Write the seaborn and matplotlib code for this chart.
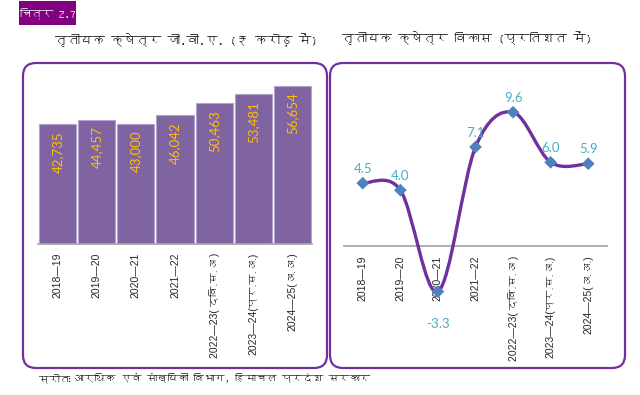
import matplotlib
matplotlib.use('Agg')
import matplotlib.pyplot as plt
from matplotlib import font_manager
from matplotlib.ft2font import FT2Font
from matplotlib.patches import FancyBboxPatch, Rectangle, PathPatch
from matplotlib.path import Path
import seaborn as sns

# data
years = ['2018—19', '2019—20', '2020—21', '2021—22',
         '2022—23( द्वि.स.अ )', '2023—24(प्र.स.अ.)', '2024—25(अ.अ.)']
gva = [42735, 44457, 43000, 46042, 50463, 53481, 56654]
growth = [4.5, 4.0, -3.3, 7.1, 9.6, 6.0, 5.9]

title_left = 'तृतीयक क्षेत्र जी.वी.ए. (₹ करोड़ में)'
title_right = 'तृतीयक क्षेत्र विकास (प्रतिशत में)'
fig_label = 'चित्र 2.7'
source_head = 'स्रोतः'
source_text = 'आर्थिक एवं सांख्यिकी विभाग, हिमाचल प्रदेश सरकार'


# look for any installed font that has Devanagari glyphs
def find_deva_font():
    for f in font_manager.fontManager.ttflist:
        try:
            if 0x0915 in FT2Font(f.fname).get_charmap():
                return f.name
        except Exception:
            pass
    return None


sns.set_theme(style='white')
deva = find_deva_font()
base = [deva, 'DejaVu Sans'] if deva else ['DejaVu Sans']
plt.rcParams['font.family'] = base
tick_fonts = ['Liberation Sans'] + base
num_fonts = ['Lato', 'DejaVu Sans']

fig = plt.figure(figsize=(6.4, 3.95), dpi=100)

# rounded panel frames (inches, so corners stay round)
for x0, x1 in [(0.23, 3.27), (3.30, 6.25)]:
    fig.patches.append(FancyBboxPatch((x0, 0.27), x1 - x0, 3.05,
                                      boxstyle='round,pad=0,rounding_size=0.13',
                                      transform=fig.dpi_scale_trans,
                                      facecolor='none', edgecolor='#7030A0',
                                      linewidth=1.6, zorder=-1))

# figure number tag
fig.patches.append(Rectangle((0.19, 3.70), 0.57, 0.24, transform=fig.dpi_scale_trans,
                             facecolor='#800080', edgecolor='none', zorder=-1))
fig.text(0.475 / 6.4, 3.815 / 3.95, fig_label, color='white', fontsize=8,
         fontweight='bold', ha='center', va='center')

fig.text(186 / 640, 1 - 40 / 395, title_left, fontsize=9, fontweight='bold',
         ha='center', va='center', color='#1a1a1a')
fig.text(467 / 640, 1 - 38 / 395, title_right, fontsize=9, fontweight='bold',
         ha='center', va='center', color='#1a1a1a')

src = fig.text(39 / 640, 1 - 382 / 395, source_head, fontsize=7.5, fontweight='bold',
               ha='left', va='baseline', color='#1a1a1a')

# left: GVA bars
ax1 = fig.add_axes([38 / 640, 151 / 395, 274 / 640, 179 / 395])
ax1.patch.set_alpha(0)
sns.barplot(x=years, y=gva, color='#8064A2', saturation=1, width=0.95,
            edgecolor='#B3A2CC', linewidth=0.8, ax=ax1)
for i, v in enumerate(gva):
    ax1.annotate(f'{v:,}', (i, v), xytext=(0, -5), textcoords='offset points',
                 rotation=90, ha='center', va='top', color='#FFC000',
                 fontsize=9.5, family=num_fonts)
ax1.set_ylim(0, 64000)
ax1.set_xlim(-0.5, 6.5)
ax1.set_yticks([])
ax1.set_xlabel('')
ax1.set_ylabel('')
for s in ['top', 'right', 'left']:
    ax1.spines[s].set_visible(False)
ax1.spines['bottom'].set_color('#A6A6A6')
ax1.tick_params(axis='x', length=0, pad=6, labelsize=7.5, labelcolor='#262626')
for t in ax1.get_xticklabels():
    t.set_rotation(90)
    t.set_va('top')
    t.set_family(tick_fonts)

# source line continues right after the bold head
ax1.annotate(source_text, xy=(1, 0), xycoords=src, xytext=(3, 0),
             textcoords='offset points', va='bottom', ha='left', fontsize=7.5,
             color='#1a1a1a', annotation_clip=False)

# right: growth line (smoothed like the spreadsheet curve)
ax2 = fig.add_axes([344 / 640, 65 / 395, 263 / 640, 265 / 395])
ax2.patch.set_alpha(0)
xs = list(range(len(growth)))
pts = list(zip(xs, growth))
verts = [pts[0]]
codes = [Path.MOVETO]
for i in range(len(pts) - 1):
    p0 = pts[max(i - 1, 0)]
    p1 = pts[i]
    p2 = pts[i + 1]
    p3 = pts[min(i + 2, len(pts) - 1)]
    c1 = (p1[0] + (p2[0] - p0[0]) / 6, p1[1] + (p2[1] - p0[1]) / 6)
    c2 = (p2[0] - (p3[0] - p1[0]) / 6, p2[1] - (p3[1] - p1[1]) / 6)
    verts += [c1, c2, p2]
    codes += [Path.CURVE4] * 3
ax2.add_patch(PathPatch(Path(verts, codes), fill=False, edgecolor='#7030A0',
                        linewidth=2.4, zorder=2, capstyle='round'))
sns.scatterplot(x=xs, y=growth, marker='D', s=42, color='#4F81BD',
                edgecolor='none', zorder=3, ax=ax2)
for i, v in enumerate(growth):
    if v < 0:
        ax2.annotate(f'{v:.1f}', (i, v), xytext=(0, -19), textcoords='offset points',
                     ha='center', va='top', color='#4BACC6', fontsize=9.5,
                     family=num_fonts)
    else:
        ax2.annotate(f'{v:.1f}', (i, v), xytext=(0, 6), textcoords='offset points',
                     ha='center', va='bottom', color='#4BACC6', fontsize=9.5,
                     family=num_fonts)
ax2.set_xlim(-0.5, 6.5)
ax2.set_ylim(-6.06, 13.0)
ax2.set_xticks(xs)
ax2.set_xticklabels(years)
ax2.set_yticks([])
for s in ['top', 'right', 'left']:
    ax2.spines[s].set_visible(False)
ax2.spines['bottom'].set_position(('data', 0))
ax2.spines['bottom'].set_color('#A6A6A6')
ax2.spines['bottom'].set_zorder(1)
ax2.tick_params(axis='x', length=0, pad=7, labelsize=7.5, labelcolor='#262626')
for t in ax2.get_xticklabels():
    t.set_rotation(90)
    t.set_va('top')
    t.set_family(tick_fonts)

fig.savefig('out.png', dpi=100)
